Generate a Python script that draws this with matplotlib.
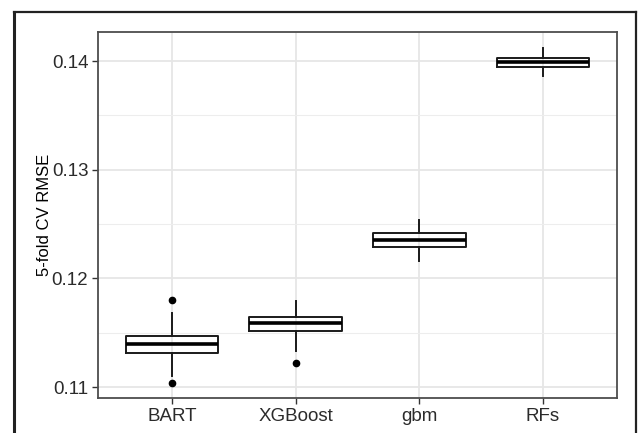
import matplotlib
matplotlib.use("Agg")
import matplotlib.pyplot as plt
from matplotlib.lines import Line2D
from matplotlib.ticker import MultipleLocator

plt.rcParams['font.family'] = ['Liberation Sans', 'DejaVu Sans']

models = ["BART", "XGBoost", "gbm", "RFs"]
whisker_lo = [0.11098, 0.11331, 0.12156, 0.13865]
q1 = [0.11316, 0.11515, 0.12292, 0.13948]
median = [0.11393, 0.11589, 0.12356, 0.13994]
q3 = [0.11469, 0.11641, 0.12417, 0.14025]
whisker_hi = [0.11680, 0.11791, 0.12540, 0.14122]
outliers = [[0.11797, 0.11037], [0.11221], [], []]

y_ticks = [0.11, 0.12, 0.13, 0.14]
y_label = "5-fold CV RMSE"

W, H = 638, 433
fig = plt.figure(figsize=(W / 100, H / 100), dpi=100)
ax = fig.add_axes([98 / W, 1 - 398 / H, (617 - 98) / W, (398 - 32) / H])

stats = []
for i, m in enumerate(models):
    stats.append(dict(label=m, whislo=whisker_lo[i], q1=q1[i], med=median[i],
                      q3=q3[i], whishi=whisker_hi[i], fliers=outliers[i]))

ax.bxp(stats, positions=range(1, len(models) + 1), widths=0.75, showcaps=False,
       boxprops=dict(color='#1a1a1a', linewidth=1.4),
       whiskerprops=dict(color='#1a1a1a', linewidth=1.4),
       medianprops=dict(color='#000000', linewidth=2.6),
       flierprops=dict(marker='o', markerfacecolor='black', markeredgecolor='black',
                       markersize=4.5),
       zorder=3)

ax.set_xlim(0.4, 4.6)
ax.set_ylim(0.10899, 0.14267)
ax.set_yticks(y_ticks)
ax.set_yticklabels([f"{t:.2f}" for t in y_ticks])
ax.yaxis.set_minor_locator(MultipleLocator(0.005))
ax.set_xticks(range(1, len(models) + 1))
ax.set_xticklabels(models)

ax.grid(True, which='major', color='#e6e6e6', linewidth=1.3, zorder=0)
ax.grid(True, which='minor', axis='y', color='#ededed', linewidth=0.8, zorder=0)
ax.set_axisbelow(True)
ax.tick_params(axis='both', which='major', length=4, width=1.0, color='#333333',
               labelsize=13.5, labelcolor='#2b2b2b', pad=3)
ax.tick_params(axis='y', which='minor', length=0)
for s in ax.spines.values():
    s.set_color('#4d4d4d')
    s.set_linewidth(1.3)

ax.set_ylabel(y_label, fontsize=12, color='black', labelpad=0)

# outer frame (cropped at bottom)
lc = '#222222'
fig.add_artist(Line2D([14 / W, 14 / W], [1 - 12 / H, 0], color=lc, lw=2.2, transform=fig.transFigure))
fig.add_artist(Line2D([14 / W, 636 / W], [1 - 12 / H, 1 - 12 / H], color=lc, lw=1.6, transform=fig.transFigure))
fig.add_artist(Line2D([636 / W, 636 / W], [1 - 12 / H, 0], color=lc, lw=1.6, transform=fig.transFigure))

fig.savefig("out.png", dpi=100)
